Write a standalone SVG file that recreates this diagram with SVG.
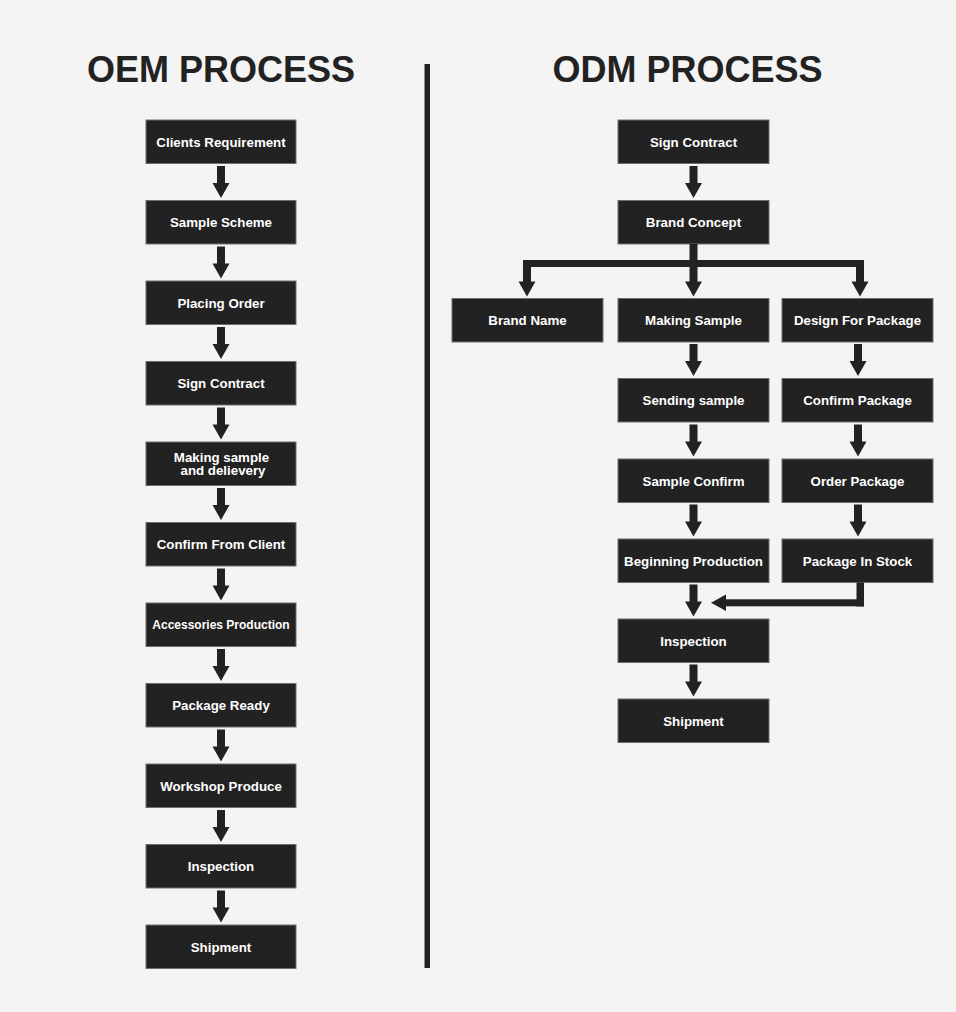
<svg xmlns="http://www.w3.org/2000/svg" xmlns:xlink="http://www.w3.org/1999/xlink" width="956" height="1012" viewBox="0 0 956 1012">
<style>
.bg{fill:#f4f4f4}
.box{fill:#222222;stroke:#6e6e6e;stroke-width:1}
.lbl{font-family:"Liberation Sans",Arial,sans-serif;font-weight:bold;font-size:13.3px;fill:#ffffff;text-anchor:middle}
.sm{font-size:12px}
.title{font-family:"Liberation Sans",Arial,sans-serif;font-weight:bold;font-size:36px;fill:#222222;text-anchor:middle}
.ar{fill:#222222}
</style>
<defs>
<path id="dn" d="M-4,-32 H4 V-15 H8.5 L0,0 L-8.5,-15 H-4 Z"/>
</defs>
<rect class="bg" x="0" y="0" width="956" height="1012"/>
<text class="title" x="221" y="81.5">OEM PROCESS</text>
<text class="title" x="687.5" y="81.5">ODM PROCESS</text>
<rect x="424.5" y="64" width="5.5" height="904" fill="#222222"/>

<g id="oem-nodes">
<g id="oem1"><rect class="box" x="146" y="120" width="150" height="43.5"/><text class="lbl" x="221" y="146.5">Clients Requirement</text></g>
<g id="oem2"><rect class="box" x="146" y="200.5" width="150" height="43.5"/><text class="lbl" x="221" y="227">Sample Scheme</text></g>
<g id="oem3"><rect class="box" x="146" y="281" width="150" height="43.5"/><text class="lbl" x="221" y="307.5">Placing Order</text></g>
<g id="oem4"><rect class="box" x="146" y="361.5" width="150" height="43.5"/><text class="lbl" x="221" y="388">Sign Contract</text></g>
<g id="oem5"><rect class="box" x="146" y="442" width="150" height="43.5"/><text class="lbl" x="221.5" y="461.5">Making sample</text><text class="lbl" x="223" y="474.5">and delievery</text></g>
<g id="oem6"><rect class="box" x="146" y="522.5" width="150" height="43.5"/><text class="lbl" x="221" y="549">Confirm From Client</text></g>
<g id="oem7"><rect class="box" x="146" y="603" width="150" height="43.5"/><text class="lbl sm" x="221" y="629">Accessories Production</text></g>
<g id="oem8"><rect class="box" x="146" y="683.5" width="150" height="43.5"/><text class="lbl" x="221" y="710">Package Ready</text></g>
<g id="oem9"><rect class="box" x="146" y="764" width="150" height="43.5"/><text class="lbl" x="221" y="790.5">Workshop Produce</text></g>
<g id="oem10"><rect class="box" x="146" y="844.5" width="150" height="43.5"/><text class="lbl" x="221" y="871">Inspection</text></g>
<g id="oem11"><rect class="box" x="146" y="925" width="150" height="43.5"/><text class="lbl" x="221" y="951.5">Shipment</text></g>
</g>

<g id="odm-nodes">
<g id="odm-sign"><rect class="box" x="618" y="120" width="151" height="43.5"/><text class="lbl" x="693.5" y="146.5">Sign Contract</text></g>
<g id="odm-brand"><rect class="box" x="618" y="200.5" width="151" height="43.5"/><text class="lbl" x="693.5" y="227">Brand Concept</text></g>
<g id="odm-name"><rect class="box" x="452" y="298.5" width="151" height="43.5"/><text class="lbl" x="527.5" y="325">Brand Name</text></g>
<g id="odm-making"><rect class="box" x="618" y="298.5" width="151" height="43.5"/><text class="lbl" x="693.5" y="325">Making Sample</text></g>
<g id="odm-design"><rect class="box" x="782" y="298.5" width="151" height="43.5"/><text class="lbl" x="857.5" y="325">Design For Package</text></g>
<g id="odm-sending"><rect class="box" x="618" y="378.5" width="151" height="43.5"/><text class="lbl" x="693.5" y="405">Sending sample</text></g>
<g id="odm-confirmpkg"><rect class="box" x="782" y="378.5" width="151" height="43.5"/><text class="lbl" x="857.5" y="405">Confirm Package</text></g>
<g id="odm-sampleconfirm"><rect class="box" x="618" y="459" width="151" height="43.5"/><text class="lbl" x="693.5" y="485.5">Sample Confirm</text></g>
<g id="odm-orderpkg"><rect class="box" x="782" y="459" width="151" height="43.5"/><text class="lbl" x="857.5" y="485.5">Order Package</text></g>
<g id="odm-begin"><rect class="box" x="618" y="539" width="151" height="43.5"/><text class="lbl" x="693.5" y="565.5">Beginning Production</text></g>
<g id="odm-stock"><rect class="box" x="782" y="539" width="151" height="43.5"/><text class="lbl" x="857.5" y="565.5">Package In Stock</text></g>
<g id="odm-inspection"><rect class="box" x="618" y="619" width="151" height="43.5"/><text class="lbl" x="693.5" y="645.5">Inspection</text></g>
<g id="odm-shipment"><rect class="box" x="618" y="699" width="151" height="43.5"/><text class="lbl" x="693.5" y="725.5">Shipment</text></g>
</g>

<g id="connectors" class="ar">
<use href="#dn" xlink:href="#dn" transform="translate(221,198)"/>
<use href="#dn" xlink:href="#dn" transform="translate(221,278.5)"/>
<use href="#dn" xlink:href="#dn" transform="translate(221,359)"/>
<use href="#dn" xlink:href="#dn" transform="translate(221,439.5)"/>
<use href="#dn" xlink:href="#dn" transform="translate(221,520)"/>
<use href="#dn" xlink:href="#dn" transform="translate(221,600.5)"/>
<use href="#dn" xlink:href="#dn" transform="translate(221,681)"/>
<use href="#dn" xlink:href="#dn" transform="translate(221,761.5)"/>
<use href="#dn" xlink:href="#dn" transform="translate(221,842)"/>
<use href="#dn" xlink:href="#dn" transform="translate(221,922.5)"/>

<use href="#dn" xlink:href="#dn" transform="translate(693.5,198)"/>
<use href="#dn" xlink:href="#dn" transform="translate(693.5,376)"/>
<use href="#dn" xlink:href="#dn" transform="translate(693.5,456.5)"/>
<use href="#dn" xlink:href="#dn" transform="translate(693.5,536.5)"/>
<use href="#dn" xlink:href="#dn" transform="translate(693.5,616.5)"/>
<use href="#dn" xlink:href="#dn" transform="translate(693.5,696.5)"/>
<use href="#dn" xlink:href="#dn" transform="translate(858,376)"/>
<use href="#dn" xlink:href="#dn" transform="translate(858,456.5)"/>
<use href="#dn" xlink:href="#dn" transform="translate(858,536.5)"/>

<rect x="689.5" y="244" width="8" height="17"/>
<rect x="523" y="260" width="341" height="7"/>
<rect x="523" y="260" width="8" height="22"/>
<polygon points="518.5,281.5 535.5,281.5 527,296.5"/>
<rect x="689.5" y="260" width="8" height="22"/>
<polygon points="685,281.5 702,281.5 693.5,296.5"/>
<rect x="856" y="260" width="8" height="22"/>
<polygon points="851.5,281.5 868.5,281.5 860,296.5"/>

<rect x="856.5" y="582.5" width="7.5" height="24"/>
<rect x="725" y="599.3" width="139" height="7"/>
<polygon points="726,594.5 726,611 711,602.8"/>
</g>
</svg>
